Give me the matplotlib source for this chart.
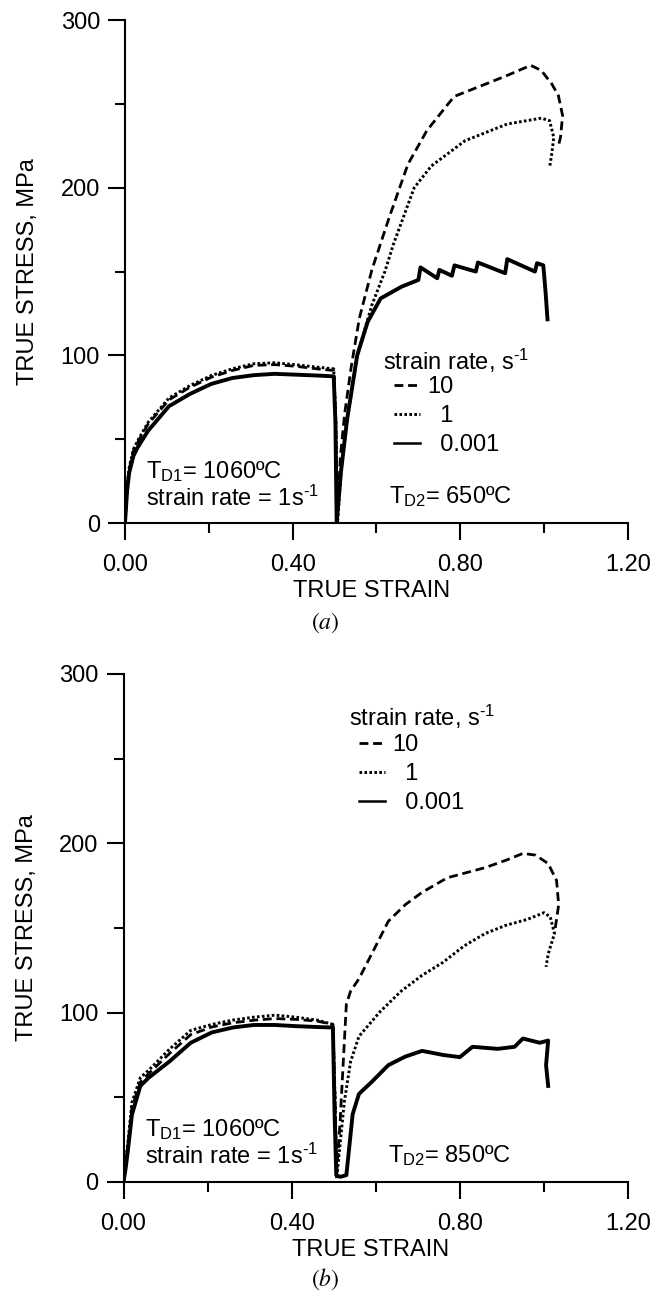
import matplotlib
matplotlib.use("Agg")
import matplotlib.pyplot as plt
from matplotlib.ticker import FixedLocator

plt.rcParams['font.family'] = ['Liberation Sans', 'DejaVu Sans']
plt.rcParams['mathtext.fontset'] = 'custom'
plt.rcParams['mathtext.rm'] = 'Liberation Sans'
plt.rcParams['mathtext.it'] = 'Liberation Sans:italic'
plt.rcParams['mathtext.bf'] = 'Liberation Sans:bold'

# ---- (a) T_D2 = 650 C ----
a_strain_10 = [0, 0.005, 0.01, 0.02, 0.03, 0.055, 0.105, 0.155, 0.206, 0.256, 0.307, 0.357, 0.408, 0.458, 0.498,
               0.503, 0.506, 0.514, 0.524, 0.539, 0.559, 0.589, 0.63, 0.675, 0.72, 0.771, 0.786, 0.862, 0.912,
               0.968, 0.993, 1.018, 1.034, 1.044, 1.039, 1.034]
a_stress_10 = [0, 20, 32, 43, 48, 59, 73.5, 81, 87, 91, 94, 94.5, 93.5, 92, 91,
               60, 0, 40, 65, 92, 122, 151, 182, 214, 234, 250, 254.5, 262, 267,
               273, 270, 262, 255, 243, 230, 225]

a_strain_1 = [0, 0.005, 0.01, 0.02, 0.03, 0.055, 0.105, 0.155, 0.206, 0.256, 0.307, 0.357, 0.408, 0.458, 0.498,
              0.503, 0.507, 0.517, 0.53, 0.554, 0.589, 0.62, 0.64, 0.69, 0.731, 0.811, 0.912, 0.993, 1.013,
              1.023, 1.018, 1.013]
a_stress_1 = [0, 21, 33, 44, 49, 60, 74.6, 82, 88, 92, 95, 95.6, 94.4, 93, 92,
              60, 0, 35, 62, 100, 130, 150, 166, 200, 213, 228, 238, 241.5, 240,
              230, 220, 212]

a_strain_001 = [0, 0.005, 0.01, 0.02, 0.03, 0.055, 0.105, 0.155, 0.206, 0.256, 0.307, 0.357, 0.408, 0.458, 0.498,
                0.502, 0.505, 0.515, 0.53, 0.554, 0.579, 0.61, 0.66, 0.70, 0.705, 0.745, 0.75, 0.78, 0.786,
                0.837, 0.842, 0.907, 0.912, 0.978, 0.983, 0.998, 1.003, 1.008]
a_stress_001 = [0, 19, 30, 40, 45, 55, 69.7, 77, 83, 86.5, 88.2, 89, 88.5, 88, 87.5,
                60, 0, 30, 62, 100, 120, 134, 141, 145, 152.5, 146, 151, 147.5, 153.7,
                150, 155.4, 149, 157.4, 150, 155, 153.7, 139, 121.5]

# ---- (b) T_D2 = 850 C ----
b_strain_10 = [0, 0.005, 0.01, 0.02, 0.04, 0.06, 0.11, 0.16, 0.21, 0.26, 0.31, 0.36, 0.41, 0.46, 0.498,
               0.503, 0.507, 0.515, 0.53, 0.54, 0.56, 0.59, 0.63, 0.67, 0.71, 0.77, 0.86, 0.91, 0.95, 0.98,
               1.01, 1.03, 1.035, 1.025]
b_stress_10 = [0, 12, 20, 44, 59, 64, 76, 87, 91.5, 94, 95.5, 96.5, 96, 95, 93,
               50, 5, 35, 105, 112.6, 120, 134.5, 154, 163.7, 171, 179.6, 185.6, 190, 194, 193,
               188, 178, 163.7, 146.7]

b_strain_1 = [0, 0.005, 0.01, 0.02, 0.04, 0.06, 0.11, 0.16, 0.21, 0.26, 0.31, 0.36, 0.41, 0.46, 0.498,
              0.503, 0.507, 0.525, 0.54, 0.56, 0.61, 0.66, 0.71, 0.76, 0.81, 0.86, 0.91, 0.96, 1.0,
              1.015, 1.025, 1.01, 1.005]
b_stress_1 = [0, 12, 22.6, 47, 61.6, 66, 78.6, 89.5, 93, 95.6, 97.3, 98.5, 97.3, 95.6, 93,
              50, 2, 47, 71, 86, 100.5, 112.6, 122, 129.7, 139.4, 146.7, 151.6, 155, 159,
              156.5, 146.7, 134.5, 127]

b_strain_001 = [0, 0.005, 0.01, 0.02, 0.04, 0.06, 0.11, 0.16, 0.21, 0.26, 0.31, 0.36, 0.41, 0.46, 0.498,
                0.502, 0.506, 0.515, 0.53, 0.545, 0.56, 0.59, 0.63, 0.67, 0.71, 0.76, 0.80, 0.83, 0.89,
                0.93, 0.95, 0.99, 1.01, 1.005, 1.01]
b_stress_001 = [0, 8, 17.8, 39.7, 56.7, 61.6, 71.3, 82.2, 88.3, 91.2, 92.7, 92.7, 92, 91.5, 91.2,
                40, 4, 3, 4, 40, 52, 59, 69, 74, 77.4, 75, 73.7, 79.8, 78.6,
                79.8, 84.7, 82.2, 83.5, 69, 56.7]

rate_labels = ["10", "  1", "  0.001"]
x_ticks = [0.0, 0.4, 0.8, 1.2]
x_ticklabels = ["0.00", "0.40", "0.80", "1.20"]
y_ticks = [0, 100, 200, 300]

FS = 17
SUP = r"$^{\mathrm{‐1}}$"  # short hyphen superscript like the original

fig = plt.figure(figsize=(6.62, 12.95), dpi=100)
ax_a = fig.add_axes([0.1888, 0.5961, 0.7598, 0.3884])
ax_b = fig.add_axes([0.1866, 0.0873, 0.7621, 0.3923])


def draw_panel(ax, s10, y10, s1, y1, s001, y001, td2, leg_title_xy, leg_xy, sub_label, sub_y):
    l10, = ax.plot(s10, y10, color='black', lw=2.0, linestyle=(0, (3.2, 1.7)))
    l1, = ax.plot(s1, y1, color='black', lw=2.1, linestyle=(0, (0.9, 0.8)))
    l001, = ax.plot(s001, y001, color='black', lw=2.8, solid_joinstyle='round')

    ax.set_xlim(0, 1.2)
    ax.set_ylim(0, 300)
    for side in ['top', 'right']:
        ax.spines[side].set_visible(False)
    for side in ['left', 'bottom']:
        ax.spines[side].set_linewidth(1.5)
    ax.set_xticks(x_ticks)
    ax.set_xticklabels(x_ticklabels)
    ax.set_yticks(y_ticks)
    ax.xaxis.set_minor_locator(FixedLocator([0.2, 0.6, 1.0]))
    ax.yaxis.set_minor_locator(FixedLocator([50, 150, 250]))
    ax.tick_params(which='major', direction='out', length=12, width=1.5, labelsize=FS)
    ax.tick_params(axis='x', which='major', pad=10)
    ax.tick_params(axis='y', which='major', pad=6)
    ax.tick_params(which='minor', direction='out', length=7.5, width=1.5)

    ax.set_xlabel("TRUE STRAIN", fontsize=FS)
    ax.set_ylabel("TRUE STRESS, MPa", fontsize=FS)
    ax.xaxis.set_label_coords(0.49, -0.113)
    ax.yaxis.set_label_coords(-0.17, 0.5)

    ax.text(leg_title_xy[0], leg_title_xy[1], "strain rate, s" + SUP,
            transform=ax.transAxes, fontsize=FS, va='center', ha='left')
    leg = ax.legend([l10, l1, l001], rate_labels, loc='upper left', bbox_to_anchor=leg_xy,
                    frameon=False, fontsize=FS, handlelength=1.1, handletextpad=0.3,
                    labelspacing=0.3, borderpad=0, borderaxespad=0)
    leg.get_lines()[2].set_linewidth(1.8)

    ax.text(0.042, 0.103, r"T$_{\rm D1}$= 1060ºC", transform=ax.transAxes,
            fontsize=FS, va='center', ha='left')
    ax.text(0.042, 0.050, "strain rate = 1s" + SUP, transform=ax.transAxes,
            fontsize=FS, va='center', ha='left')
    ax.text(0.525, 0.052, r"T$_{\rm D2}$= " + td2, transform=ax.transAxes,
            fontsize=FS, va='center', ha='left')

    fig.text(0.492, sub_y, sub_label, fontsize=FS, math_fontfamily='stix',
             ha='center', va='center')


draw_panel(ax_a, a_strain_10, a_stress_10, a_strain_1, a_stress_1, a_strain_001, a_stress_001,
           "650ºC", (0.513, 0.322), (0.535, 0.292), r"$(a)$", 0.519)
draw_panel(ax_b, b_strain_10, b_stress_10, b_strain_1, b_stress_1, b_strain_001, b_stress_001,
           "850ºC", (0.447, 0.915), (0.467, 0.882), r"$(b)$", 0.012)

fig.savefig("out.png", dpi=100)
